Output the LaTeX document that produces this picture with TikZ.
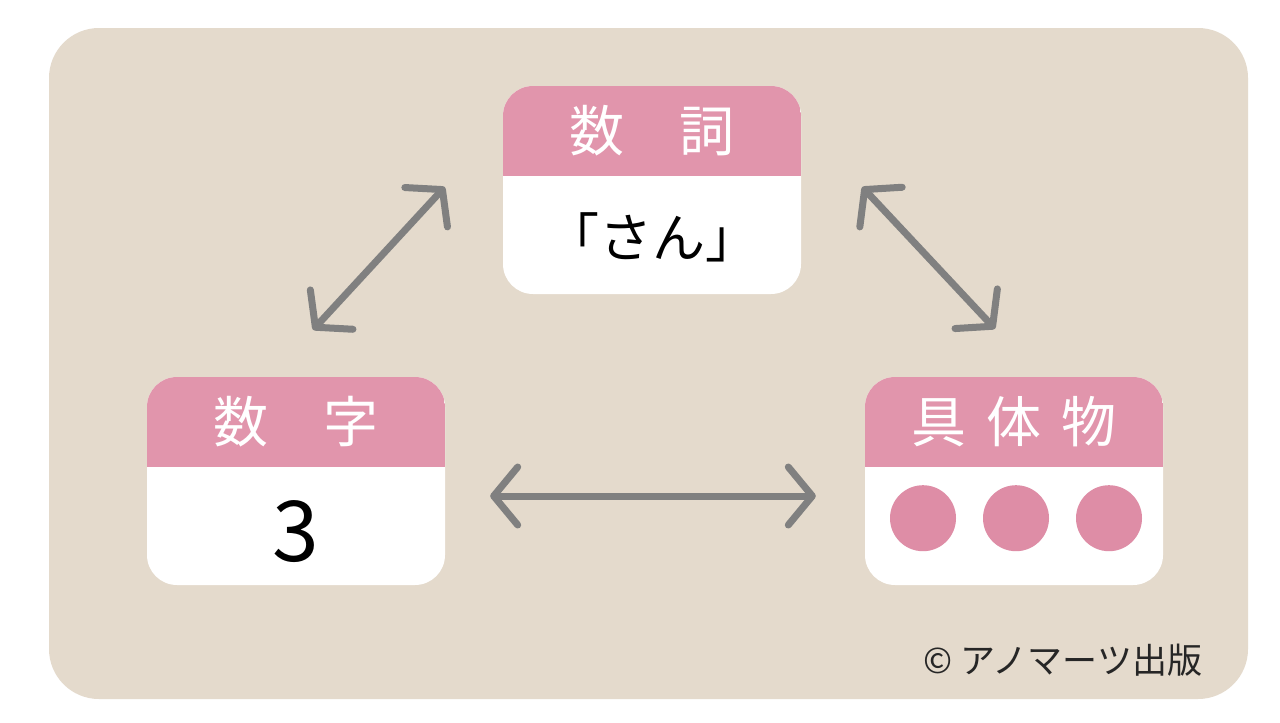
\documentclass[tikz,border=0pt]{standalone}
\usepackage{fontspec}
\usepackage{xcolor}
\usepackage{tikz}
\usetikzlibrary{positioning}
\usetikzlibrary{calc}
\usetikzlibrary{arrows.meta}
\newfontfamily\jpfont{Noto Sans CJK JP}

\definecolor{haikei}{RGB}{228,218,204}
\definecolor{kpink}{RGB}{225,149,172}
\definecolor{dotpink}{RGB}{222,141,166}
\definecolor{yajirushi}{RGB}{128,128,128}

\tikzset{
  card/.style={rectangle, rounded corners=30pt, fill=white, inner sep=0pt,
    minimum width=298pt, minimum height=208pt,
    path picture={\fill[kpink, sharp corners] (path picture bounding box.north west)
      rectangle ([yshift=-90pt]path picture bounding box.north east);}},
  head/.style={text=white, inner sep=0pt, font=\jpfont\fontsize{55pt}{60pt}\selectfont},
  body/.style={text=black, inner sep=0pt},
  maru/.style={circle, fill=dotpink, minimum size=66pt, inner sep=0pt},
  arr/.style={yajirushi, line width=7pt, line cap=round,
    <->, >={Straight Barb[round, length=24pt, width=58pt]}}
}

\begin{document}
\begin{tikzpicture}[x=1pt,y=-1pt]
   \useasboundingbox (0,0) rectangle (1280,723);
   \fill[white] (0,0) rectangle (1280,723);
   \fill[haikei, rounded corners=50pt] (49,28) rectangle (1248,699);
   %
   \node[card] (suushi) at (652,190) {};
   \node[card] (suuji) at (296,481) {};
   \node[card] (gutai) at (1014,481) {};
   %
   \node[head] (suushiH) at ([shift={(0,45)}]suushi.north) {数　詞};
   \node[head] (suujiH) at ([shift={(0,45)}]suuji.north) {数　字};
   \node[head] (gutaiH) at ([shift={(0,45)}]gutai.north) {具\hspace{20pt}体\hspace{20pt}物};
   %
   \node[body, font=\jpfont\fontsize{53pt}{56pt}\selectfont] (san) at ([shift={(0,-57)}]suushi.south) {「さん」};
   \node[body, font=\jpfont\fontsize{84pt}{90pt}\selectfont] (three) at ([shift={(0,-54)}]suuji.south) {3};
   \node[maru] (maru1) at ([shift={(-91,-67)}]gutai.south) {};
   \node[maru] (maru2) at ([shift={(2,-67)}]gutai.south) {};
   \node[maru] (maru3) at ([shift={(95,-67)}]gutai.south) {};
   %
   \draw[arr] ([shift={(17,-47)}]suuji.north) -- ([shift={(-58,-3)}]suushi.west);
   \draw[arr] ([shift={(61,-3)}]suushi.east) -- ([shift={(-19,-48)}]gutai.north);
   \draw[arr] ([shift={(45,15)}]suuji.east) -- ([shift={(-49,15)}]gutai.west);
   %
   \node[text=black!85, font=\jpfont\fontsize{35pt}{38pt}\selectfont] (copy) at (1063,660) {© アノマーツ出版};
   %
\end{tikzpicture}
\end{document}
